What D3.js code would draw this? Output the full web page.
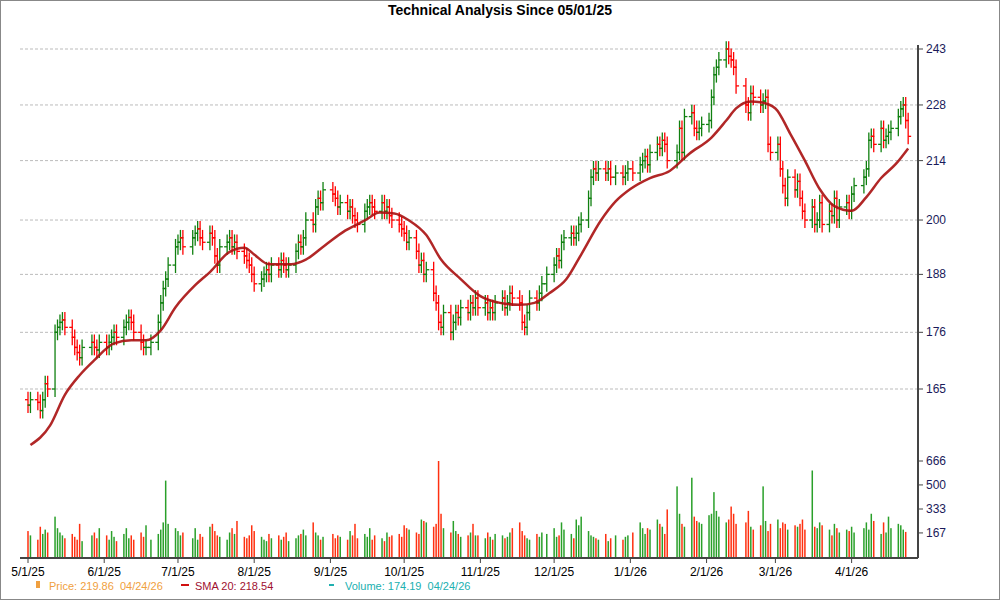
<!DOCTYPE html>
<html><head><meta charset="utf-8">
<script src="https://cdn.jsdelivr.net/npm/d3@7"></script>
<style>body{margin:0;background:#fff;font-family:"Liberation Sans",Arial,sans-serif}</style>
</head><body><svg id="chart" width="1000" height="600"></svg>
<script>
// daily closes, one line per month (05/25 .. 04/26)
var closes = [
 162,163,162.5,161,163,166,165,176,177,178,178.5,177,175,173,172,171,173,174,173,172.5,174,
 173,174,175,176,175,177,178,179,178,176,174,173,173,174,178,182,185,187,190,194,
 195,196,194,196,197,198,196,195,197,196,192,190,194,195,196,194,195,193,192,191,190,188,
 186,187,188,189,188,190,189,191,190,189,190,193,195,194,196,200,199,203,205,204,207,
 206,205,203,204,202,203,201,200,199,202,203,204,203,202,204,202,203,201,200,199,198,
 197,195,196,193,190,191,188,189,184,182,178,177,180,176,178,180,179,181,180,182,181,183,181,
 182,180,181,180,182,183,181,182,184,183,182,178,177,180,183,182,184,186,188,
 190,192,191,195,196,197,196,197,199,200,205,210,212,211,212,211,212,210,211,210,211,212,
 211,213,214,215,213,216,218,217,219,218,214,216,222,216,225,226,222,221,222,223,
 224,230,236,238,240,243,241,240,238,233,228,226,231,230,228,229,230,218,216,
 218,212,208,205,210,207,209,205,202,200,203,199,200,204,199,202,201,205,200,203,204,202,
 206,208,210,212,219,220,218,222,219,220,221,222,225,227,228,224,220
];
var firstOpen = 163;
var volumes = [
 180,150,120,210,160,190,170,280,200,170,150,130,160,140,120,230,110,150,170,130,200,
 150,120,180,140,110,160,200,130,150,120,170,140,220,120,160,190,240,530,230,
 200,180,150,170,130,200,120,160,140,210,230,180,150,140,120,170,200,160,250,140,130,150,
 220,180,140,120,110,160,130,150,120,140,170,110,130,150,160,190,150,240,170,150,120,
 140,160,130,150,140,120,180,150,230,130,160,140,200,120,150,130,110,170,140,150,160,
 140,220,200,190,170,160,260,250,240,210,230,666,300,200,170,250,180,160,140,150,170,230,150,
 150,130,170,140,120,160,150,130,140,170,200,240,180,150,130,120,160,140,170,
 160,200,140,150,240,190,160,130,260,220,280,180,150,140,130,120,160,110,130,150,120,140,
 150,170,240,200,160,200,190,260,230,210,160,330,490,300,230,210,550,280,250,240,
 230,290,300,450,320,280,240,260,350,300,230,240,320,210,190,220,490,250,180,
 230,260,200,240,230,190,220,210,230,260,190,600,210,200,240,220,190,150,230,200,170,190,
 180,210,170,200,240,190,300,250,160,240,170,280,200,230,220,190,174
];
var holidays = ["2025-05-26","2025-06-19","2025-07-04","2025-09-01","2025-11-27","2025-12-25","2026-01-01","2026-01-19","2026-02-16","2026-04-03"];
// SMA 20: days after 05/01/25 and value
var smaDays = [1,9,15,21,27,35,42,48,54,60,68,74,82,88,92,98,107,113,121,129,137,143,149,155,162,168,176,184,192,200,206,212,219,225,233,239,245,253,261,269,278,284,288,294,298,304,310,316,322,328,335,341,347,353,358];
var smaValues = [154.8,158.3,163.9,167.6,170.5,173.8,174.4,174.4,176.4,181.1,185.7,188.5,192.9,193.8,192.3,190.2,190.2,191.2,194.4,197.6,199.9,201.7,201.5,199.9,196.6,191.2,187,183.4,182,181.6,182,184,187,192.3,199.9,204.3,207.2,209.8,211.5,215.7,219.7,224,227.1,228.9,228.7,227.1,220.7,214,207.2,203.2,202.1,205.3,209.8,213.2,217];
var priceTicks = [165,176,188,200,214,228,243];
var volTicks = [167,333,500,666];
var monthTicks = ["2025-05-01","2025-06-01","2025-07-01","2025-08-01","2025-09-01","2025-10-01","2025-11-01","2025-12-01","2026-01-01","2026-02-01","2026-03-01","2026-04-01"];

var parse = d3.timeParse("%Y-%m-%d");
var fmt = d3.timeFormat("%Y-%m-%d");
var start = parse("2025-05-01");

// trading days
var days = [];
var d = new Date(start);
while (days.length < closes.length) {
	var wd = d.getDay();
	if (wd !== 0 && wd !== 6 && holidays.indexOf(fmt(d)) < 0) days.push(new Date(d));
	d = d3.timeDay.offset(d, 1);
}
var bars = closes.map(function(c, i) {
	var o = i === 0 ? firstOpen : closes[i-1];
	return {date: days[i], open: o, close: c, volume: volumes[i], up: c >= o};
});

var svg = d3.select("#chart");
var plotLeft = 20, plotRight = 918;
var x = d3.scaleTime().domain([start, parse("2026-04-28")]).range([28, 918]);
var y = d3.scaleLog().domain([165, 243]).range([389, 49]);
var yv = d3.scaleLinear().domain([0, 666]).range([557, 461]);

svg.append("rect").attr("x",0.5).attr("y",0.5).attr("width",999).attr("height",599)
	.attr("fill","#fff").attr("stroke","#888");

svg.append("text").attr("x",500).attr("y",15).attr("text-anchor","middle")
	.attr("font-size",14).attr("font-weight","bold").text("Technical Analysis Since 05/01/25");

// grid
svg.selectAll(".grid").data(priceTicks).enter().append("line")
	.attr("x1",plotLeft).attr("x2",plotRight)
	.attr("y1",function(t){return y(t);}).attr("y2",function(t){return y(t);})
	.attr("stroke","#bbb").attr("stroke-dasharray","3,2");

// right axes
svg.append("line").attr("x1",plotRight).attr("x2",plotRight).attr("y1",45).attr("y2",558)
	.attr("stroke","#444").attr("stroke-width",2);
var ry = svg.append("g");
priceTicks.forEach(function(t){
	ry.append("line").attr("x1",plotRight).attr("x2",plotRight+5).attr("y1",y(t)).attr("y2",y(t)).attr("stroke","#444");
	ry.append("text").attr("x",plotRight+8).attr("y",y(t)+4).attr("font-size",12).attr("fill","#1a1a5a").text(t);
});
volTicks.forEach(function(t){
	ry.append("line").attr("x1",plotRight).attr("x2",plotRight+5).attr("y1",yv(t)).attr("y2",yv(t)).attr("stroke","#444");
	ry.append("text").attr("x",plotRight+8).attr("y",yv(t)+4).attr("font-size",12).attr("fill","#1a1a5a").text(t);
});

// volume bars
svg.selectAll(".vol").data(bars).enter().append("rect")
	.attr("x",function(b){return x(b.date)-0.75;}).attr("width",1.5)
	.attr("y",function(b){return yv(b.volume);})
	.attr("height",function(b){return yv(0)-yv(b.volume);})
	.attr("fill",function(b){return b.up ? "#2aa02a" : "#ff3010";});

// OHLC bars
var pad = 0.009;
var g = svg.append("g");
bars.forEach(function(b){
	var col = b.up ? "#108010" : "#ff0000";
	var hi = Math.max(b.open,b.close)*(1+pad), lo = Math.min(b.open,b.close)*(1-pad);
	var cx = x(b.date);
	g.append("line").attr("x1",cx).attr("x2",cx).attr("y1",y(hi)).attr("y2",y(lo)).attr("stroke",col).attr("stroke-width",1.3);
	g.append("line").attr("x1",cx-3).attr("x2",cx).attr("y1",y(b.open)).attr("y2",y(b.open)).attr("stroke",col).attr("stroke-width",1.3);
	g.append("line").attr("x1",cx).attr("x2",cx+3).attr("y1",y(b.close)).attr("y2",y(b.close)).attr("stroke",col).attr("stroke-width",1.3);
});

// SMA
var line = d3.line()
	.x(function(p){return x(d3.timeDay.offset(start, p[0]));})
	.y(function(p){return y(p[1]);})
	.curve(d3.curveMonotoneX);
svg.append("path").datum(d3.zip(smaDays, smaValues)).attr("d",line)
	.attr("fill","none").attr("stroke","#a80f0f").attr("stroke-width",2.5).attr("opacity",0.9);

// bottom axis
svg.append("line").attr("x1",plotLeft).attr("x2",plotRight).attr("y1",558).attr("y2",558)
	.attr("stroke","#444").attr("stroke-width",2);
var tf = d3.timeFormat("%-m/%-d/%y");
monthTicks.forEach(function(s){
	var t = parse(s);
	svg.append("line").attr("x1",x(t)).attr("x2",x(t)).attr("y1",558).attr("y2",563).attr("stroke","#444");
	svg.append("text").attr("x",x(t)).attr("y",576).attr("text-anchor","middle").attr("font-size",12).text(tf(t));
});

// legend
svg.append("rect").attr("x",36).attr("y",581).attr("width",4).attr("height",7).attr("fill","#f0a040");
svg.append("text").attr("x",49).attr("y",590).attr("font-size",11).attr("fill","#f0a040")
	.attr("xml:space","preserve").text("Price: 219.86  04/24/26");
svg.append("rect").attr("x",181).attr("y",584).attr("width",8).attr("height",2).attr("fill","#d01010");
svg.append("text").attr("x",195).attr("y",590).attr("font-size",11).attr("fill","#a01030")
	.text("SMA 20: 218.54");
svg.append("rect").attr("x",329).attr("y",584).attr("width",5).attr("height",2).attr("fill","#20b0b0");
svg.append("text").attr("x",345).attr("y",590).attr("font-size",11).attr("fill","#20b0b0")
	.attr("xml:space","preserve").text("Volume: 174.19  04/24/26");
</script></body></html>
